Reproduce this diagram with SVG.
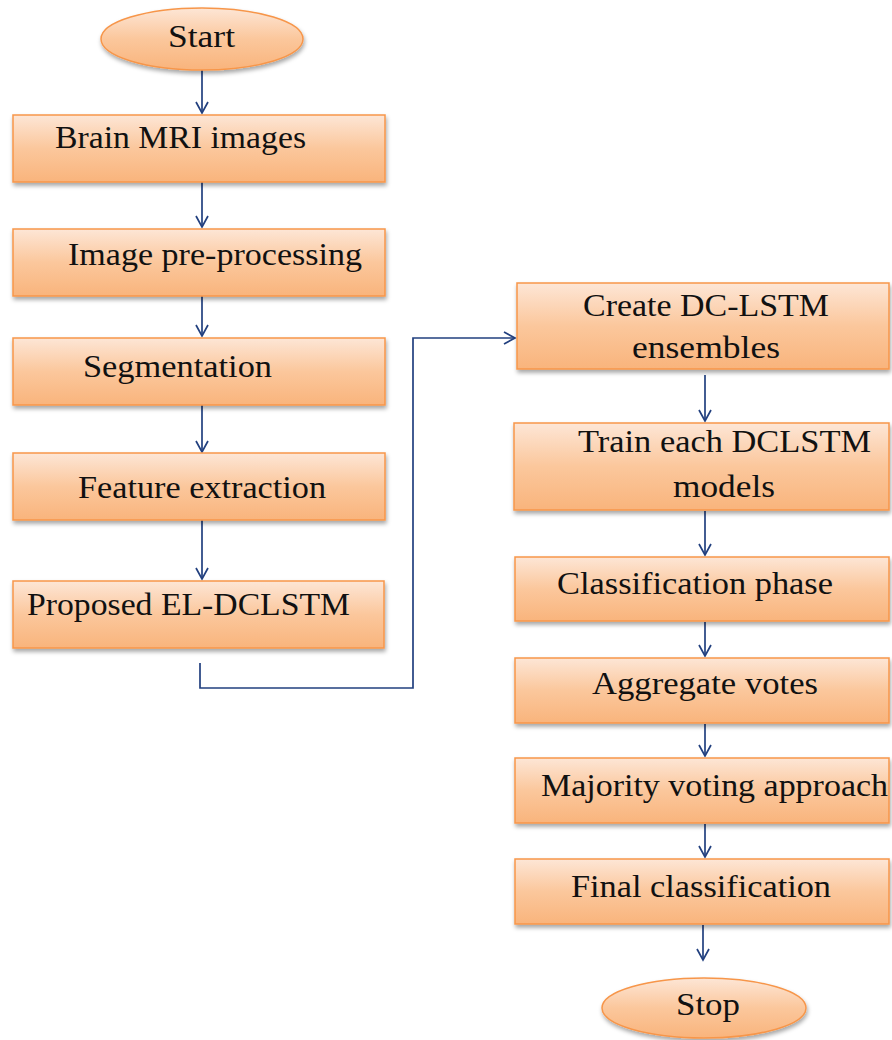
<svg xmlns="http://www.w3.org/2000/svg" width="892" height="1040" viewBox="0 0 892 1040">
<defs>
<linearGradient id="g" x1="0" y1="0" x2="0" y2="1">
<stop offset="0" stop-color="#fde6d6"/>
<stop offset="0.5" stop-color="#fbc79c"/>
<stop offset="1" stop-color="#f9b47c"/>
</linearGradient>
<filter id="sh" x="-5%" y="-5%" width="110%" height="125%">
<feDropShadow dx="1" dy="3" stdDeviation="2" flood-color="#000" flood-opacity="0.35"/>
</filter>
<marker id="ah" markerWidth="14" markerHeight="14" refX="12" refY="7" orient="auto" markerUnits="userSpaceOnUse">
<path d="M1,1 L12,7 L1,13" fill="none" stroke="#22407f" stroke-width="1.7"/>
</marker>
</defs>
<style>
.n{fill:url(#g);stroke:#f7964a;stroke-width:1.5;filter:url(#sh)}
.t{font-family:"Liberation Serif","Times New Roman",serif;font-size:32px;fill:#111}
.c{fill:none;stroke:#22407f;stroke-width:1.7}
</style>
<rect width="892" height="1040" fill="#fff"/>
<g id="connectors">
<path class="c" d="M202,70 V113" marker-end="url(#ah)"/>
<path class="c" d="M202,182 V227" marker-end="url(#ah)"/>
<path class="c" d="M202,296 V336" marker-end="url(#ah)"/>
<path class="c" d="M202,405 V452" marker-end="url(#ah)"/>
<path class="c" d="M202,520 V579" marker-end="url(#ah)"/>
<path class="c" d="M200,663 V688 H413 V338 H515" marker-end="url(#ah)"/>
<path class="c" d="M705,375 V421" marker-end="url(#ah)"/>
<path class="c" d="M705,511 V555" marker-end="url(#ah)"/>
<path class="c" d="M705,622 V656" marker-end="url(#ah)"/>
<path class="c" d="M705,724 V756" marker-end="url(#ah)"/>
<path class="c" d="M705,824 V857" marker-end="url(#ah)"/>
<path class="c" d="M703,925 V960" marker-end="url(#ah)"/>
</g>
<g id="start"><ellipse class="n" cx="202" cy="39" rx="101" ry="31"/><text class="t" x="168" y="47" textLength="67" lengthAdjust="spacingAndGlyphs">Start</text></g>
<g id="brain-mri"><rect class="n" x="13" y="115" width="372" height="67"/><text class="t" x="55" y="148" textLength="251" lengthAdjust="spacingAndGlyphs">Brain MRI images</text></g>
<g id="preprocessing"><rect class="n" x="13" y="229" width="372" height="67"/><text class="t" x="68" y="265" textLength="294" lengthAdjust="spacingAndGlyphs">Image pre-processing</text></g>
<g id="segmentation"><rect class="n" x="13" y="338" width="372" height="67"/><text class="t" x="83" y="377" textLength="189" lengthAdjust="spacingAndGlyphs">Segmentation</text></g>
<g id="feature"><rect class="n" x="13" y="453" width="372" height="67"/><text class="t" x="78" y="498" textLength="248" lengthAdjust="spacingAndGlyphs">Feature extraction</text></g>
<g id="proposed"><rect class="n" x="13" y="581" width="371" height="67"/><text class="t" x="27" y="615" textLength="323" lengthAdjust="spacingAndGlyphs">Proposed EL-DCLSTM</text></g>
<g id="create"><rect class="n" x="517" y="283" width="372" height="86"/><text class="t" x="583" y="316" textLength="246" lengthAdjust="spacingAndGlyphs">Create DC-LSTM</text><text class="t" x="632" y="358" textLength="148" lengthAdjust="spacingAndGlyphs">ensembles</text></g>
<g id="train"><rect class="n" x="514" y="423" width="375" height="87"/><text class="t" x="578" y="452" textLength="293" lengthAdjust="spacingAndGlyphs">Train each DCLSTM</text><text class="t" x="673" y="497" textLength="102" lengthAdjust="spacingAndGlyphs">models</text></g>
<g id="classification"><rect class="n" x="515" y="557" width="374" height="64"/><text class="t" x="557" y="594" textLength="276" lengthAdjust="spacingAndGlyphs">Classification phase</text></g>
<g id="aggregate"><rect class="n" x="515" y="658" width="374" height="65"/><text class="t" x="592" y="694" textLength="226" lengthAdjust="spacingAndGlyphs">Aggregate votes</text></g>
<g id="majority"><rect class="n" x="515" y="758" width="374" height="65"/><text class="t" x="541" y="796" textLength="347" lengthAdjust="spacingAndGlyphs">Majority voting approach</text></g>
<g id="final"><rect class="n" x="515" y="859" width="374" height="65"/><text class="t" x="571" y="897" textLength="260" lengthAdjust="spacingAndGlyphs">Final classification</text></g>
<g id="stop"><ellipse class="n" cx="704" cy="1008" rx="102" ry="30"/><text class="t" x="676" y="1015" textLength="64" lengthAdjust="spacingAndGlyphs">Stop</text></g>
</svg>
